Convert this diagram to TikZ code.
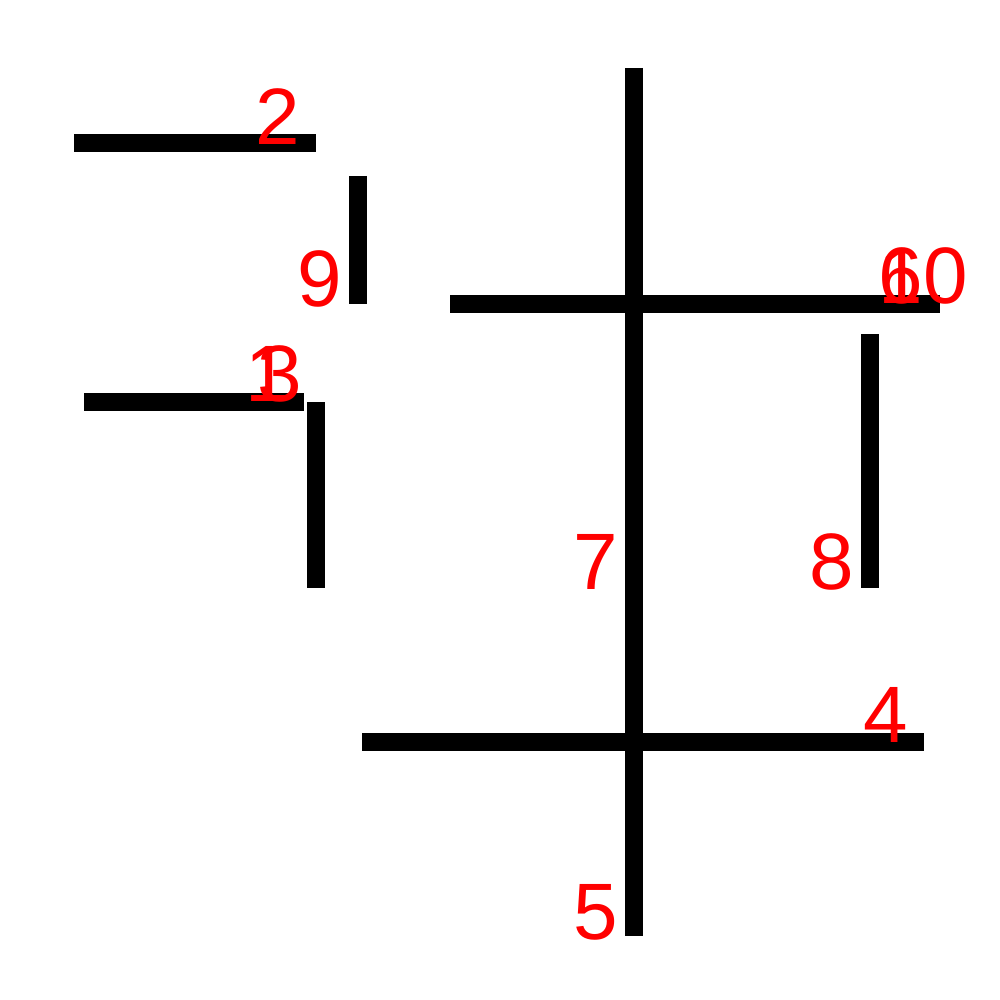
\documentclass[tikz,border=0pt]{standalone}
\usepackage{fontspec}
\setmainfont{Liberation Sans}
\begin{document}
\begin{tikzpicture}[x=1pt,y=-1pt,
  bond/.style={line width=18pt,black,line cap=butt},
  lbl/.style={text=red,inner sep=0pt,font=\fontsize{80}{80}\selectfont}]
\useasboundingbox (0,0) rectangle (1000,1000);
% segment end points
\coordinate (a1) at (74,143);  \coordinate (a2) at (316,143);
\coordinate (b1) at (358,176); \coordinate (b2) at (358,304);
\coordinate (c1) at (450,304); \coordinate (c2) at (940,304);
\coordinate (d1) at (634,68);  \coordinate (d2) at (634,936);
\coordinate (e1) at (84,402);  \coordinate (e2) at (304,402);
\coordinate (f1) at (316,402); \coordinate (f2) at (316,588);
\coordinate (g1) at (870,334); \coordinate (g2) at (870,588);
\coordinate (h1) at (362,742); \coordinate (h2) at (924,742);
\draw[bond] (a1) -- (a2);
\draw[bond] (b1) -- (b2);
\draw[bond] (c1) -- (c2);
\draw[bond] (d1) -- (d2);
\draw[bond] (e1) -- (e2);
\draw[bond] (f1) -- (f2);
\draw[bond] (g1) -- (g2);
\draw[bond] (h1) -- (h2);
% labels
\node[lbl] (l2) at (278,117) {2};
\node[lbl] (l9) at (320,279) {9};
\node[lbl] (l1) at (268,374) {1};
\node[lbl] (l3) at (280,374) {3};
\node[lbl] (l6) at (901,276) {6};
\node[lbl] (l10) at (923,276) {10};
\node[lbl] (l7) at (596,562) {7};
\node[lbl] (l8) at (832,562) {8};
\node[lbl] (l4) at (886,715) {4};
\node[lbl] (l5) at (596,912) {5};
\end{tikzpicture}
\end{document}
